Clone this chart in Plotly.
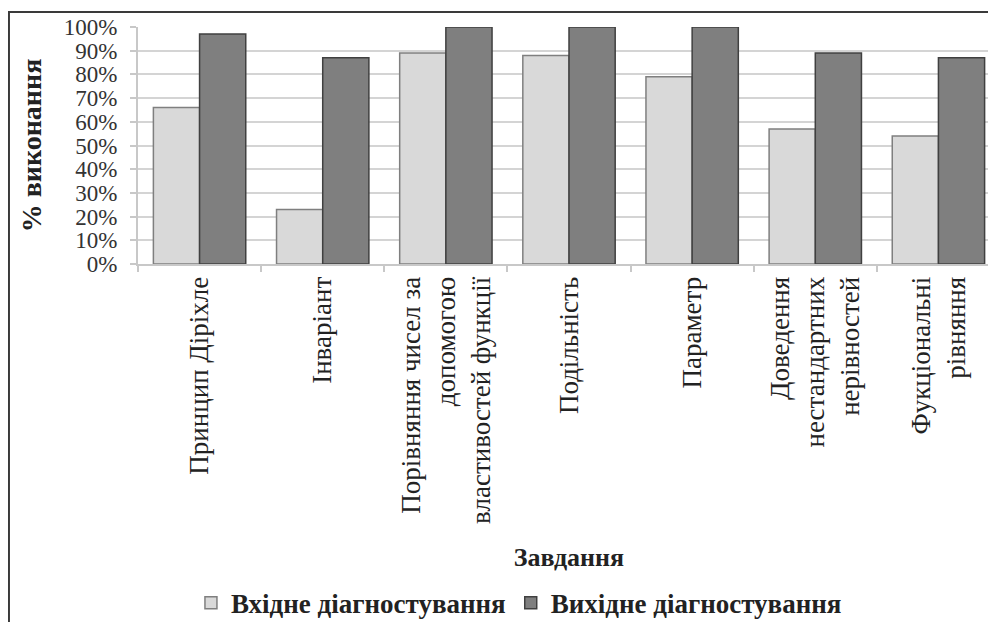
import plotly.graph_objects as go

categories = [
    "Принцип Діріхле",
    "Інваріант",
    "Порівняння чисел за<br>допомогою<br>властивостей функції",
    "Подільність",
    "Параметр",
    "Доведення<br>нестандартних<br>нерівностей",
    "Фукціональні<br>рівняння",
]
entry_values = [66, 23, 89, 88, 79, 57, 54]
exit_values = [97, 87, 100, 100, 100, 89, 87]
series_names = ["Вхідне діагностування", "Вихідне діагностування"]
y_tick_values = [0, 10, 20, 30, 40, 50, 60, 70, 80, 90, 100]
y_tick_labels = [f"{v}%" for v in y_tick_values]

SERIF = "Tinos, Liberation Serif, Times New Roman, serif"

fig = go.Figure()
fig.add_trace(go.Bar(
    x=categories, y=entry_values, name="<b>" + series_names[0] + "</b>",
    marker=dict(color="#d9d9d9", line=dict(color="#7f7f7f", width=1.5)),
))
fig.add_trace(go.Bar(
    x=categories, y=exit_values, name="<b>" + series_names[1] + "</b>",
    marker=dict(color="#7f7f7f", line=dict(color="#404040", width=1.5)),
))

fig.update_layout(
    width=996, height=622,
    margin=dict(l=130, r=4, t=19, b=366),
    paper_bgcolor="white", plot_bgcolor="white",
    barmode="group", bargap=0.25, bargroupgap=0,
    showlegend=True,
    legend=dict(
        orientation="h", xref="container", yref="container",
        x=0.513, y=0.043, xanchor="center", yanchor="middle",
        font=dict(family=SERIF, size=27, color="#222"),
        itemwidth=30, tracegroupgap=0,
    ),
    xaxis=dict(
        type="category", range=[-0.5, 6.5],
        showgrid=False, showline=True, linecolor="#c8c8c8", linewidth=2,
        ticks="outside", tickson="boundaries", ticklen=6, tickcolor="#c8c8c8", tickwidth=2,
        tickangle=-90,
        tickfont=dict(family=SERIF, size=27, color="#222"),
        title=dict(text="<b>Завдання</b>", font=dict(family=SERIF, size=26, color="#222"), standoff=25),
    ),
    yaxis=dict(
        range=[0, 100], tickvals=y_tick_values, ticktext=y_tick_labels,
        showgrid=True, gridcolor="#d4d4d4", gridwidth=2,
        showline=True, linecolor="#c8c8c8", linewidth=2,
        ticks="outside", ticklen=6, tickcolor="#c8c8c8", tickwidth=2,
        tickfont=dict(family=SERIF, size=23, color="#333"),
        ticklabelstandoff=8,
        zeroline=False,
        title=dict(text="<b>% виконання</b>", font=dict(family=SERIF, size=28, color="#222"), standoff=14),
    ),
)

# chart area frame (as in the cropped reference)
fig.add_shape(type="rect", xref="paper", yref="paper",
              x0=-0.1497, y0=1.063, x1=1.05, y1=-1.7,
              line=dict(color="#3a3a3a", width=2), fillcolor="rgba(0,0,0,0)", layer="below")

fig.write_html("out.html")
